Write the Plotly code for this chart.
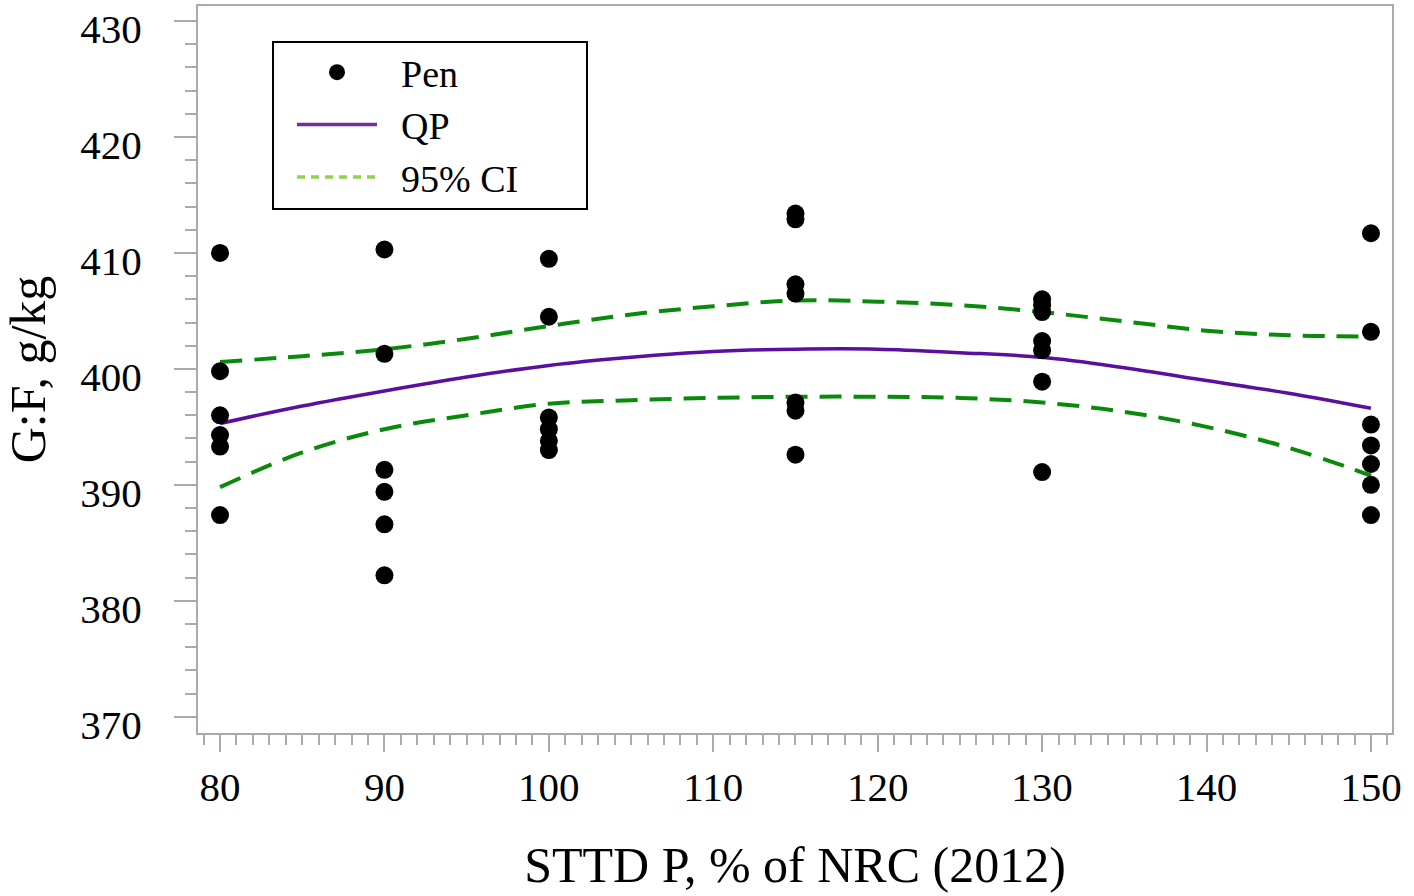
import plotly.graph_objects as go

# ---- data ----
pen_x = [80]*6 + [90]*6 + [100]*6 + [115]*7 + [130]*7 + [150]*7
pen_y = [410.0, 399.8, 396.0, 394.3, 393.3, 387.4,
         410.3, 401.3, 391.3, 389.4, 386.6, 382.2,
         409.5, 404.5, 395.8, 394.8, 393.8, 393.0,
         413.4, 412.9, 407.3, 406.5, 397.1, 396.4, 392.6,
         406.0, 405.5, 404.9, 402.4, 401.6, 398.9, 391.1,
         411.7, 403.2, 395.2, 393.4, 391.8, 390.0, 387.4]

fit_x = [80, 85, 90, 95, 100, 105, 110, 115, 120, 125, 130, 135, 140, 145, 150]
qp_y = [395.3, 396.8, 398.1, 399.3, 400.3, 401.0, 401.5, 401.7, 401.7, 401.4, 401.0, 400.1, 399.0, 397.9, 396.6]
ci_upper = [400.6, 401.1, 401.7, 402.6, 403.7, 404.7, 405.4, 405.9, 405.8, 405.5, 404.9, 404.1, 403.3, 402.9, 402.8]
ci_lower = [389.8, 392.8, 394.8, 396.0, 397.0, 397.3, 397.5, 397.6, 397.6, 397.5, 397.1, 396.3, 395.0, 393.2, 390.8]

x_ticks = [80, 90, 100, 110, 120, 130, 140, 150]
y_ticks = [370, 380, 390, 400, 410, 420, 430]

legend_names = ["Pen", "QP", "95% CI"]

FONT = "Liberation Serif, Times New Roman, serif"
GRAY = "#a7abaf"
NB = "\u00a0\u00a0"

fig = go.Figure()
fig.add_trace(go.Scatter(x=fit_x, y=ci_upper, mode="lines", showlegend=False,
                         line=dict(color="#0a8a0a", width=4, dash="22px,12px", shape="spline")))
fig.add_trace(go.Scatter(x=fit_x, y=ci_lower, mode="lines", showlegend=False,
                         line=dict(color="#0a8a0a", width=4, dash="22px,12px", shape="spline")))
fig.add_trace(go.Scatter(x=fit_x, y=qp_y, mode="lines", showlegend=False,
                         line=dict(color="#5a0f9e", width=3.5, shape="spline")))
fig.add_trace(go.Scatter(x=pen_x, y=pen_y, mode="markers", showlegend=False,
                         marker=dict(color="black", size=18)))

# legend entries
fig.add_trace(go.Scatter(x=[None], y=[None], mode="markers", name=NB + legend_names[0],
                         marker=dict(color="black", size=20)))
fig.add_trace(go.Scatter(x=[None], y=[None], mode="lines", name=NB + legend_names[1],
                         line=dict(color="#7030a0", width=3.5)))
fig.add_trace(go.Scatter(x=[None], y=[None], mode="lines", name=NB + legend_names[2],
                         line=dict(color="#92d050", width=3.5, dash="8px,6px")))

L, R, T, B = 198, 22, 6, 163
W, H = 1414, 896
pw, ph = W - L - R, H - T - B

def px_x(p):
    return (p - L) / pw

def px_y(p):
    return (H - B - p) / ph

fig.add_shape(type="rect", xref="paper", yref="paper",
              x0=px_x(273), x1=px_x(587), y0=px_y(209), y1=px_y(42),
              line=dict(color="black", width=2), fillcolor="rgba(0,0,0,0)")

fig.update_layout(
    width=W, height=H,
    margin=dict(l=L, r=R, t=T, b=B, autoexpand=False),
    paper_bgcolor="white", plot_bgcolor="white",
    font=dict(family=FONT, size=40, color="black"),
    legend=dict(x=px_x(284), y=px_y(41), xanchor="left", yanchor="top",
                bgcolor="rgba(0,0,0,0)", borderwidth=0,
                font=dict(family=FONT, size=38, color="black"),
                indentation=8, itemwidth=80),
    xaxis=dict(range=[78.66, 151.28], tickvals=x_ticks, ticks="outside",
               ticklen=17, tickwidth=2, tickcolor=GRAY, automargin=False,
               tickfont=dict(size=41), ticklabeloverflow="allow",
               minor=dict(dtick=1, ticks="outside", ticklen=10, tickwidth=2, tickcolor=GRAY),
               showline=True, linecolor=GRAY, linewidth=2, mirror=True,
               showgrid=False, zeroline=False, ticklabelstandoff=0,
               title=dict(text="STTD P, % of NRC (2012)", standoff=38,
                          font=dict(family=FONT, size=50, color="black"))),
    yaxis=dict(range=[368.6, 431.3], tickvals=y_ticks, ticks="outside",
               ticklen=22, tickwidth=2, tickcolor=GRAY, automargin=False,
               tickfont=dict(size=41), ticklabeloverflow="allow", ticklabelshift=8,
               minor=dict(dtick=2, ticks="outside", ticklen=11, tickwidth=2, tickcolor=GRAY),
               showline=True, linecolor=GRAY, linewidth=2, mirror=True,
               showgrid=False, zeroline=False, ticklabelstandoff=24,
               title=dict(text="G:F, g/kg", standoff=29,
                          font=dict(family=FONT, size=50, color="black"))),
)

fig.write_html("out.html", config={"displayModeBar": False},
               post_script="document.body.style.margin='0';")
